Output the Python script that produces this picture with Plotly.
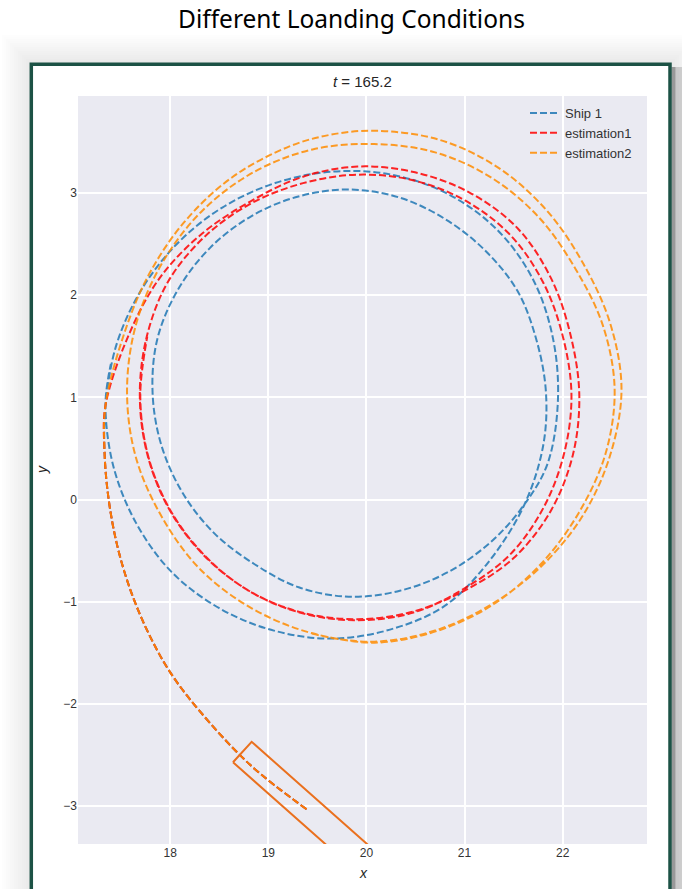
import plotly.graph_objects as go

# ---------------- data ----------------
straight_x = [19.39, 18.82, 18.31, 18.00, 17.78, 17.60, 17.46, 17.37, 17.33, 17.34]
straight_y = [-3.03, -2.60, -2.08, -1.69, -1.31, -0.90, -0.45, 0.02, 0.48, 0.92]

ship1_x = straight_x + [17.453, 17.706, 18.073, 18.535, 19.069, 19.65, 20.253, 20.838, 21.347, 21.715, 21.91,
                        21.95, 21.843, 21.60, 21.277, 20.835, 20.34, 19.82, 19.31, 18.86, 18.45, 18.127,
                        17.908, 17.82, 17.869, 18.079, 18.406, 18.825, 19.306, 19.82, 20.331, 20.80, 21.209,
                        21.539, 21.733, 21.83, 21.80, 21.60, 21.22, 20.79, 20.24, 19.65, 19.057, 18.50,
                        18.013, 17.65, 17.419, 17.34, 17.395]
ship1_y = straight_y + [1.519, 2.053, 2.507, 2.861, 3.098, 3.21, 3.181, 2.987, 2.627, 2.123, 1.536,
                        0.93, 0.343, -0.06, -0.407, -0.708, -0.892, -0.95, -0.858, -0.632, -0.33, 0.065,
                        0.538, 1.05, 1.573, 2.055, 2.464, 2.773, 2.967, 3.035, 2.958, 2.747, 2.439,
                        2.043, 1.563, 1.05, 0.52, -0.07, -0.64, -1.045, -1.272, -1.36, -1.282, -1.062,
                        -0.707, -0.225, 0.332, 0.93, 1.328]

est1_x = straight_x + [17.59, 17.901, 18.326, 18.815, 19.338, 19.91, 20.495, 21.055, 21.543, 21.885, 22.083,
                       22.17, 22.103, 21.876, 21.501, 21.01, 20.477, 19.91, 19.341, 18.805, 18.344, 17.987,
                       17.766, 17.69, 17.761, 17.979, 18.354, 18.825, 19.354, 19.91, 20.474, 21.01, 21.473,
                       21.807, 22.006, 22.09, 22.016, 21.807, 21.466, 21.00, 20.479, 19.91, 19.339, 18.805,
                       18.347, 17.992, 17.77, 17.695, 17.766]
est1_y = straight_y + [1.64, 2.18, 2.604, 2.917, 3.155, 3.26, 3.203, 3.003, 2.653, 2.16, 1.602,
                       1.02, 0.433, -0.115, -0.571, -0.885, -1.095, -1.17, -1.105, -0.894, -0.546, -0.09,
                       0.446, 1.02, 1.596, 2.135, 2.576, 2.899, 3.097, 3.18, 3.126, 2.925, 2.583,
                       2.115, 1.582, 1.02, 0.456, -0.075, -0.536, -0.868, -1.105, -1.18, -1.11, -0.894,
                       -0.543, -0.088, 0.447, 1.02, 1.595]

est2_x = straight_x + [17.50, 17.76, 18.138, 18.629, 19.215, 19.641, 20.08, 20.735, 21.335, 21.834, 22.21,
                       22.485, 22.60, 22.485, 22.21, 21.798, 21.29, 20.712, 20.08, 19.441, 18.84, 18.312,
                       17.915, 17.646, 17.56, 17.656, 17.924, 18.33, 18.853, 19.451, 20.08, 20.701, 21.275,
                       21.76, 22.13, 22.41, 22.53, 22.437, 22.167, 21.784, 21.295, 20.714, 20.08, 19.44]
est2_y = straight_y + [1.535, 2.162, 2.71, 3.153, 3.457, 3.572, 3.61, 3.524, 3.254, 2.834, 2.31,
                       1.724, 1.08, 0.436, -0.15, -0.638, -1.016, -1.277, -1.39, -1.306, -1.068, -0.688,
                       -0.17, 0.428, 1.08, 1.73, 2.325, 2.83, 3.206, 3.427, 3.48, 3.398, 3.15,
                       2.76, 2.26, 1.705, 1.08, 0.449, -0.125, -0.624, -1.024, -1.287, -1.40, -1.311]

hull_x = [18.64, 18.83, 20.30, 20.11, 18.64]
hull_y = [-2.57, -2.37, -3.62, -3.82, -2.57]

series_names = ["Ship 1", "estimation1", "estimation2"]
x_ticks = [18, 19, 20, 21, 22]
y_ticks = [-3, -2, -1, 0, 1, 2, 3]
page_title = "Different Loanding Conditions"
plot_title = "<i>t</i> = 165.2"

# ---------------- layout helpers ----------------
W, H = 682, 889
ML, MR, MT, MB = 78, 35, 96, 45
PW, PH = W - ML - MR, H - MT - MB


def pxx(x):
    return (x - ML) / PW


def pxy(y):
    return (H - MB - y) / PH


colors = ["rgba(31,119,180,0.85)", "rgba(255,0,0,0.85)", "rgba(255,140,0,0.85)"]
FONT = "Liberation Sans, Arial, sans-serif"

fig = go.Figure()
for name, xs, ys, c in zip(series_names, [ship1_x, est1_x, est2_x], [ship1_y, est1_y, est2_y], colors):
    fig.add_trace(go.Scatter(x=xs, y=ys, mode="lines", name=name,
                             line=dict(color=c, width=2, dash="7px,3px", shape="spline", smoothing=1.0)))

fig.add_trace(go.Scatter(x=hull_x, y=hull_y, mode="lines", showlegend=False,
                         line=dict(color="#EA701E", width=2)))

shapes = []
# soft shadow around frame
for i in range(1, 15):
    o = 2 * i
    a = 0.09 * (1 - i / 15)
    shapes.append(dict(type="rect", xref="paper", yref="paper",
                       x0=pxx(31 - o), x1=pxx(670 + o), y0=pxy(64 - o), y1=pxy(H + 40),
                       line=dict(color=f"rgba(0,0,0,{a:.3f})", width=2), fillcolor="rgba(0,0,0,0)"))
shapes.append(dict(type="rect", xref="paper", yref="paper", x0=pxx(671.5), x1=pxx(675.5),
                   y0=pxy(67), y1=pxy(H + 5), line=dict(width=0), fillcolor="rgba(0,0,0,0.35)"))
shapes.append(dict(type="rect", xref="paper", yref="paper", x0=pxx(675.5), x1=pxx(682),
                   y0=pxy(67), y1=pxy(H + 5), line=dict(width=0), fillcolor="rgba(0,0,0,0.15)"))
# frame
shapes.append(dict(type="rect", xref="paper", yref="paper", x0=pxx(31.3), x1=pxx(670), y0=pxy(64.3),
                   y1=pxy(H + 20), line=dict(color="#1C5245", width=3.5), fillcolor="rgba(0,0,0,0)"))

annotations = [
    dict(text=page_title, x=pxx(351), y=pxy(18), xref="paper", yref="paper", showarrow=False,
         xanchor="center", yanchor="middle", font=dict(family="Noto Sans", size=24.5, color="#000")),
    dict(text=plot_title, x=pxx(362), y=pxy(82), xref="paper", yref="paper", showarrow=False,
         xanchor="center", yanchor="middle", font=dict(family=FONT, size=15, color="#262626")),
    dict(text="<i>x</i>", x=pxx(363), y=pxy(873), xref="paper", yref="paper", showarrow=False,
         xanchor="center", yanchor="middle", font=dict(family=FONT, size=14, color="#262626")),
    dict(text="<i>y</i>", x=pxx(42), y=pxy(470), xref="paper", yref="paper", showarrow=False,
         textangle=-90, xanchor="center", yanchor="middle", font=dict(family=FONT, size=14, color="#262626")),
]

fig.update_layout(
    width=W, height=H,
    margin=dict(l=ML, r=MR, t=MT, b=MB, pad=0),
    paper_bgcolor="white", plot_bgcolor="#EAEAF2",
    font=dict(family=FONT, size=12, color="#333"),
    showlegend=True,
    legend=dict(x=pxx(525), y=pxy(98), xanchor="left", yanchor="top", bgcolor="rgba(0,0,0,0)",
                font=dict(family=FONT, size=13, color="#333"), borderwidth=0, tracegroupgap=0),
    shapes=shapes, annotations=annotations,
)
fig.update_xaxes(range=[17.06, 22.86], tickvals=x_ticks, showgrid=True, gridcolor="white", gridwidth=1.5,
                 zeroline=False, showline=False, ticks="", tickfont=dict(size=12, color="#333"))
fig.update_yaxes(range=[-3.37, 3.95], tickvals=y_ticks, showgrid=True, gridcolor="white", gridwidth=1.5,
                 zeroline=False, showline=False, ticks="", tickfont=dict(size=12, color="#333"))

fig.write_html("out.html", config={"displayModeBar": False},
               post_script="document.body.style.margin='0';document.body.style.overflow='hidden';")
